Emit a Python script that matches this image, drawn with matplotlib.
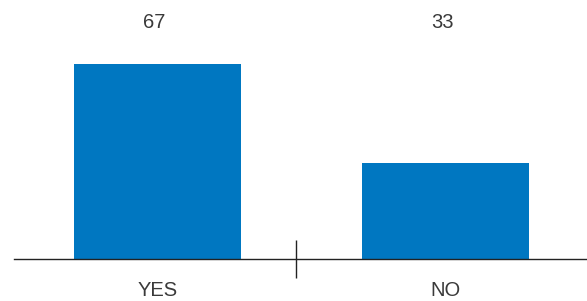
import matplotlib.pyplot as plt

categories = ['YES', 'NO']
values = [67, 33]
value_labels = ['67', '33']

plt.rcParams['font.family'] = ['Liberation Sans', 'DejaVu Sans']

fig = plt.figure(figsize=(5.87, 3.01), dpi=100)
# axes spans from the baseline start to the right/top edges
ax = fig.add_axes([14 / 587, 42 / 301, 1 - 14 / 587, 1 - 42 / 301])

x = list(range(len(categories)))
ax.bar(x, values, width=0.58, color='#0077c1')

ax.set_xlim(-0.498, 1.491)
ax.set_ylim(0, 88.8)

for xi, lab in zip(x, value_labels):
    ax.text(xi - 0.01, 81, lab, ha='center', va='center', fontsize=14.5, color='#3a3a3a')

for side in ['top', 'right', 'left']:
    ax.spines[side].set_visible(False)
ax.spines['bottom'].set_color('#222222')
ax.spines['bottom'].set_linewidth(1.0)
ax.set_yticks([])

ax.set_xticks(x)
ax.set_xticklabels(categories, fontsize=14.5, color='#3a3a3a')
ax.tick_params(axis='x', which='major', length=0, pad=15.5)
# divider tick between the two categories
ax.set_xticks([0.481], minor=True)
ax.tick_params(axis='x', which='minor', direction='inout', length=27, width=1.0, color='#222222')

fig.savefig('out.png', dpi=100)
